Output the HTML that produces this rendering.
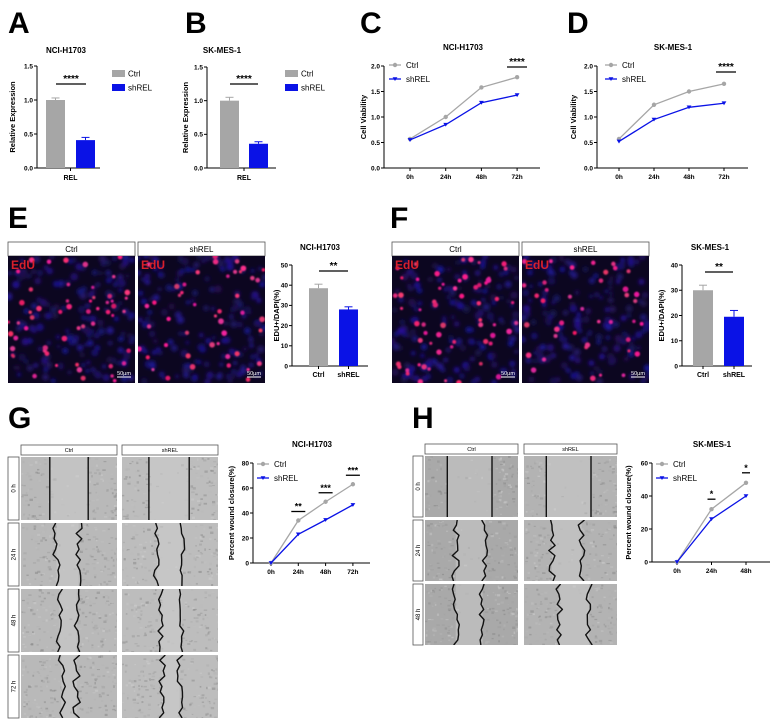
<!DOCTYPE html>
<html><head><meta charset="utf-8">
<style>
html,body{margin:0;padding:0;background:#fff;}
svg{display:block;font-family:"Liberation Sans",sans-serif;}
</style></head>
<body>
<svg id="fig" width="774" height="727" viewBox="0 0 774 727" xmlns="http://www.w3.org/2000/svg">
<defs>
<filter id="blur1" x="-50%" y="-50%" width="200%" height="200%"><feGaussianBlur stdDeviation="0.8"/></filter>
<filter id="blur2" x="-50%" y="-50%" width="200%" height="200%"><feGaussianBlur stdDeviation="1.8"/></filter>
</defs>
</svg>
<script>
// ---------- DATA ----------
const aCategories = ["Ctrl","shREL"];
const aValues = [1.0, 0.41];
const aErrors = [0.03, 0.04];
const bValues = [1.0, 0.36];
const bErrors = [0.05, 0.03];
const relTicks = [0, 0.5, 1.0, 1.5];
const relTickLabels = ["0.0","0.5","1.0","1.5"];

const cvTimeLabels = ["0h","24h","48h","72h"];
const cCtrl = [0.57, 1.0, 1.58, 1.78];
const cShrel = [0.55, 0.85, 1.28, 1.43];
const dCtrl = [0.57, 1.24, 1.5, 1.65];
const dShrel = [0.52, 0.95, 1.19, 1.27];
const cvTicks = [0, 0.5, 1.0, 1.5, 2.0];
const cvTickLabels = ["0.0","0.5","1.0","1.5","2.0"];

const eValues = [38.5, 28];
const eErrors = [2, 1.3];
const eTicks = [0,10,20,30,40,50];
const fValues = [30, 19.5];
const fErrors = [2, 2.5];
const fTicks = [0,10,20,30,40];

const gTimeLabels = ["0h","24h","48h","72h"];
const gCtrl = [0, 34, 49, 63];
const gShrel = [0, 23, 34.5, 46.5];
const gTicks = [0,20,40,60,80];
const gStars = ["", "**", "***", "***"];
const hTimeLabels = ["0h","24h","48h"];
const hCtrl = [0, 32, 48];
const hShrel = [0, 26, 40];
const hTicks = [0,20,40,60];
const hStars = ["", "*", "*"];

// ---------- HELPERS ----------
const NS = "http://www.w3.org/2000/svg";
const fig = document.getElementById('fig');
function el(tag, attrs, parent){
  const e = document.createElementNS(NS, tag);
  for (const k in attrs) e.setAttribute(k, attrs[k]);
  (parent||fig).appendChild(e);
  return e;
}
function txt(s, attrs, parent){ const e = el('text', attrs, parent); e.textContent = s; return e; }
let seed = 12345;
function rnd(){ seed = (seed*1103515245 + 12345) % 2147483648; return seed/2147483648; }
const GRAY = "#a6a6a6", BLUE = "#0a12e6";

function panelLetter(ch, x, y){
  const t = txt(ch, {x:x, y:y, 'font-size':30, 'font-weight':'bold', fill:'#000'});
  
  
}
function title(s, cx, y, name){
  const t = txt(s, {x:cx, y:y, 'font-size':8, 'font-weight':'bold', 'text-anchor':'middle'});
  
  
}
function yAxis(g, ax, y0, yTop, max, ticks, labels, axisLabel, labelX){
  const sy = v => y0 - v/max*(y0-yTop);
  const l = el('line', {x1:ax, y1:sy(ticks[ticks.length-1]), x2:ax, y2:y0, stroke:'#000', 'stroke-width':1}, g);
  
  
  ticks.forEach((v,i)=>{
    el('line', {x1:ax-3, y1:sy(v), x2:ax, y2:sy(v), stroke:'#000', 'stroke-width':1}, g);
    const t = txt(labels[i], {x:ax-4, y:sy(v)+2.3, 'font-size':6.5, 'font-weight':'bold', 'text-anchor':'end'}, g);
    
    
  });
  const cy = (y0 + sy(ticks[ticks.length-1]))/2;
  const yt = txt(axisLabel, {x:labelX, y:cy, 'font-size':7.5, 'font-weight':'bold', 'text-anchor':'middle', transform:`rotate(-90 ${labelX} ${cy})`}, g);
  
  
  return sy;
}
function sig(g, x1, x2, y, stars, fs){
  el('line', {x1:x1, y1:y, x2:x2, y2:y, stroke:'#000', 'stroke-width':1.3}, g);
  const t = txt(stars, {x:(x1+x2)/2, y:y-2, 'font-size':fs||10, 'font-weight':'bold', 'text-anchor':'middle'}, g);
  
  
}

function barChart(name, cfg, values, errors, ticks, labels){
  const g = el('g', {}, fig);
  
  
  const max = ticks[ticks.length-1];
  const sy = yAxis(g, cfg.ax, cfg.y0, cfg.yTop, max, ticks, labels, cfg.ylabel, cfg.ylabelX);
  el('line', {x1:cfg.ax, y1:cfg.y0, x2:cfg.axEnd, y2:cfg.y0, stroke:'#000', 'stroke-width':1}, g);
  values.forEach((v,i)=>{
    const bx = cfg.barX[i];
    const r = el('rect', {x:bx, y:sy(v), width:cfg.bw, height:cfg.y0-sy(v), fill: i===0?GRAY:BLUE}, g);
    
    
    const cx = bx + cfg.bw/2;
    el('line', {x1:cx, y1:sy(v), x2:cx, y2:sy(v+errors[i]), stroke: i===0?GRAY:BLUE, 'stroke-width':1}, g);
    el('line', {x1:cx-4, y1:sy(v+errors[i]), x2:cx+4, y2:sy(v+errors[i]), stroke: i===0?GRAY:BLUE, 'stroke-width':1}, g);
    if (cfg.catLabels){
      el('line', {x1:cx, y1:cfg.y0, x2:cx, y2:cfg.y0+3, stroke:'#000'}, g);
      const t = txt(aCategories[i], {x:cx, y:cfg.y0+11, 'font-size':7, 'font-weight':'bold', 'text-anchor':'middle'}, g);
      
      
    }
  });
  if (cfg.groupLabel){
    const mid = (cfg.barX[0] + cfg.barX[1] + cfg.bw)/2;
    el('line', {x1:mid, y1:cfg.y0, x2:mid, y2:cfg.y0+3, stroke:'#000'}, g);
    const t = txt(cfg.groupLabel, {x:mid, y:cfg.y0+12, 'font-size':7, 'font-weight':'bold', 'text-anchor':'middle'}, g);
    
    
  }
  sig(g, cfg.sig[0], cfg.sig[1], cfg.sig[2], cfg.sig[3]);
  if (cfg.legend){
    const [lx, ly] = cfg.legend;
    ["Ctrl","shREL"].forEach((s,i)=>{
      const r = el('rect', {x:lx, y:ly+i*14-4, width:13, height:7, fill: i===0?GRAY:BLUE}, g);
      
      
      const t = txt(s, {x:lx+16, y:ly+i*14+2.5, 'font-size':8}, g);
      
      
    });
  }
}

function lineChart(name, cfg, timeLabels, ctrl, sh, ticks, tickLabels){
  const g = el('g', {}, fig);
  
  
  const max = ticks[ticks.length-1];
  const sy = yAxis(g, cfg.ax, cfg.y0, cfg.yTop, max, ticks, tickLabels, cfg.ylabel, cfg.ylabelX);
  const sx = i => cfg.x0 + i*cfg.dx;
  el('line', {x1:cfg.ax, y1:cfg.y0, x2:cfg.axEnd, y2:cfg.y0, stroke:'#000', 'stroke-width':1}, g);
  timeLabels.forEach((s,i)=>{
    el('line', {x1:sx(i), y1:cfg.y0, x2:sx(i), y2:cfg.y0+3, stroke:'#000'}, g);
    const t = txt(s, {x:sx(i), y:cfg.y0+11, 'font-size':6.5, 'font-weight':'bold', 'text-anchor':'middle'}, g);
    
    
  });
  [[ctrl, GRAY, 'ctrl'], [sh, BLUE, 'shrel']].forEach(([vals, col, nm])=>{
    const pts = vals.map((v,i)=>`${sx(i)},${sy(v)}`).join(' ');
    const pl = el('polyline', {points:pts, fill:'none', stroke:col, 'stroke-width':1.3}, g);
    
    
    vals.forEach((v,i)=>{
      let m;
      if (nm==='ctrl') m = el('circle', {cx:sx(i), cy:sy(v), r:2.2, fill:col}, g);
      else m = el('path', {d:`M${sx(i)-2.4},${sy(v)-1.8} L${sx(i)+2.4},${sy(v)-1.8} L${sx(i)},${sy(v)+2} Z`, fill:col}, g);
      
      
    });
  });
  const [lx, ly] = cfg.legend;
  [[GRAY,'Ctrl'],[BLUE,'shREL']].forEach(([col,s],i)=>{
    const y = ly + i*14;
    el('line', {x1:lx, y1:y, x2:lx+12, y2:y, stroke:col, 'stroke-width':1.3}, g);
    if (i===0) el('circle', {cx:lx+6, cy:y, r:2.2, fill:col}, g);
    else el('path', {d:`M${lx+3.6},${y-1.8} L${lx+8.4},${y-1.8} L${lx+6},${y+2} Z`, fill:col}, g);
    const t = txt(s, {x:lx+17, y:y+2.8, 'font-size':8}, g);
    
    
  });
  if (cfg.stars){
    cfg.stars.forEach((s,i)=>{
      if (!s) return;
      const top = Math.max(ctrl[i], sh[i]);
      const y = sy(top) - cfg.starGap;
      sig(g, sx(i)-cfg.sigW/2, sx(i)+cfg.sigW/2, y, s, cfg.starFs);
    });
  }
}

function edu(name, x, y, w, h, n){
  const g = el('g', {}, fig);
  
  
  const cp = el('clipPath', {id:'cp'+name}, g);
  el('rect', {x:x, y:y, width:w, height:h}, cp);
  const inner = el('g', {'clip-path':`url(#cp${name})`}, g);
  el('rect', {x:x, y:y, width:w, height:h, fill:'#0c0620'}, inner);
  const bl = el('g', {filter:'url(#blur2)'}, inner);
  for (let i=0;i<160;i++) el('circle', {cx:x+rnd()*w, cy:y+rnd()*h, r:1.8+rnd()*2, fill:`rgb(${20+rnd()*20|0},${10+rnd()*15|0},${70+rnd()*80|0})`}, bl);
  const rd = el('g', {filter:'url(#blur1)'}, inner);
  for (let i=0;i<n;i++) el('circle', {cx:x+rnd()*w, cy:y+rnd()*h, r:1.5+rnd()*1.4, fill:`rgb(${210+rnd()*45|0},${20+rnd()*40|0},${100+rnd()*60|0})`}, rd);
  const t = txt('EdU', {x:x+3, y:y+13, 'font-size':12, 'font-weight':'bold', fill:'#d8202c'}, g);
  
  
  el('line', {x1:x+w-18, y1:y+h-6, x2:x+w-4, y2:y+h-6, stroke:'#fff', 'stroke-width':1}, g);
  const s = txt('50µm', {x:x+w-11, y:y+h-8, 'font-size':5.5, fill:'#fff', 'text-anchor':'middle'}, g);
  
  
}
function header(s, x, y, w, h, fs, name){
  const r = el('rect', {x:x, y:y, width:w, height:h, fill:'#fff', stroke:'#555', 'stroke-width':0.8});
  
  
  const t = txt(s, {x:x+w/2, y:y+h/2+fs*0.36, 'font-size':fs, 'text-anchor':'middle'});
  
  
}
function rowLabel(s, x, y, w, h, name){
  const r = el('rect', {x:x, y:y, width:w, height:h, fill:'#fff', stroke:'#555', 'stroke-width':0.8});
  
  
  const cx = x+w/2+2, cy = y+h/2;
  const t = txt(s, {x:cx, y:cy, 'font-size':6, 'text-anchor':'middle', transform:`rotate(-90 ${cx} ${cy})`});
  
  
}
function wound(name, x, y, w, h, gapL, gapR, wav, shade){
  const g = el('g', {}, fig);
  
  
  const cp = el('clipPath', {id:'cp'+name}, g);
  el('rect', {x:x, y:y, width:w, height:h}, cp);
  const inner = el('g', {'clip-path':`url(#cp${name})`}, g);
  el('rect', {x:x, y:y, width:w, height:h, fill:shade}, inner);
  for (let i=0;i<200;i++){
    const px = x+rnd()*w, py = y+rnd()*h;
    const inGap = px > x+gapL*w && px < x+gapR*w;
    if (inGap && rnd()<0.85) continue;
    const c = 130 + rnd()*80 | 0;
    el('rect', {x:px, y:py, width:1.5+rnd()*2, height:1+rnd()*1.5, fill:`rgb(${c},${c},${c})`, opacity:0.5}, inner);
  }
  el('rect', {x:x+gapL*w, y:y, width:(gapR-gapL)*w, height:h, fill:'#d0d0d0', opacity:0.45}, inner);
  [gapL, gapR].forEach(fr=>{
    let d = '';
    const steps = 12;
    for (let i=0;i<=steps;i++){
      const px = x + fr*w + (wav ? (rnd()-0.5)*wav : 0);
      const py = y + i*h/steps;
      d += (i===0?'M':'L') + px.toFixed(1) + ',' + py.toFixed(1) + ' ';
    }
    el('path', {d:d, fill:'none', stroke:'#111', 'stroke-width':1.4, 'stroke-linejoin':'round'}, inner);
  });
}

// ---------- PANELS ----------
panelLetter('A', 8, 33); panelLetter('B', 185, 33); panelLetter('C', 360, 33); panelLetter('D', 567, 33);
panelLetter('E', 8, 228); panelLetter('F', 390, 228); panelLetter('G', 8, 428); panelLetter('H', 412, 428);

title('NCI-H1703', 66, 53, 'chart-title-a');
barChart('chart-a', {ax:37, y0:168, yTop:66, axEnd:100, barX:[46,76], bw:19, ylabel:'Relative Expression', ylabelX:15,
  groupLabel:'REL', sig:[56,86,84,'****'], legend:[112,74]}, aValues, aErrors, relTicks, relTickLabels);
title('SK-MES-1', 222, 53, 'chart-title-b');
barChart('chart-b', {ax:207, y0:168, yTop:67, axEnd:276, barX:[220,249], bw:19, ylabel:'Relative Expression', ylabelX:188,
  groupLabel:'REL', sig:[230,258,84,'****'], legend:[285,74]}, bValues, bErrors, relTicks, relTickLabels);

title('NCI-H1703', 463, 50, 'chart-title-c');
lineChart('chart-c', {ax:384, y0:168, yTop:66, axEnd:540, x0:410, dx:35.7, ylabel:'Cell Viability', ylabelX:366,
  legend:[389,65]}, cvTimeLabels, cCtrl, cShrel, cvTicks, cvTickLabels);
sig(fig, 507, 527, 67, '****');
title('SK-MES-1', 673, 50, 'chart-title-d');
lineChart('chart-d', {ax:597, y0:168, yTop:66, axEnd:748, x0:619, dx:35, ylabel:'Cell Viability', ylabelX:576,
  legend:[605,65]}, cvTimeLabels, dCtrl, dShrel, cvTicks, cvTickLabels);
sig(fig, 716, 736, 72, '****');

// E
header('Ctrl', 8, 242, 127, 14, 8, 'header-e-ctrl');
header('shREL', 138, 242, 127, 14, 8, 'header-e-shrel');
edu('edu-e-ctrl', 8, 256, 127, 127, 55);
edu('edu-e-shrel', 138, 256, 127, 127, 45);
title('NCI-H1703', 320, 250, 'chart-title-e');
barChart('chart-e', {ax:292, y0:366, yTop:265, axEnd:368, barX:[309,339], bw:19, ylabel:'EDU+/DAPI(%)', ylabelX:279,
  catLabels:true, sig:[319,348,271,'**']}, eValues, eErrors, eTicks, eTicks.map(String));

// F
header('Ctrl', 392, 242, 127, 14, 8, 'header-f-ctrl');
header('shREL', 522, 242, 127, 14, 8, 'header-f-shrel');
edu('edu-f-ctrl', 392, 256, 127, 127, 60);
edu('edu-f-shrel', 522, 256, 127, 127, 40);
title('SK-MES-1', 710, 250, 'chart-title-f');
barChart('chart-f', {ax:682, y0:366, yTop:265, axEnd:752, barX:[693,724], bw:20, ylabel:'EDU+/DAPI(%)', ylabelX:664,
  catLabels:true, sig:[705,733,272,'**']}, fValues, fErrors, fTicks, fTicks.map(String));

// G
header('Ctrl', 21, 445, 96, 10, 5.5, 'header-g-ctrl');
header('shREL', 122, 445, 96, 10, 5.5, 'header-g-shrel');
const gRows = ["0 h","24 h","48 h","72 h"];
const gGaps = [[0.3,0.7,0],[0.37,0.6,8],[0.4,0.58,7],[0.42,0.58,8]];
const gGapsS = [[0.28,0.7,0],[0.36,0.63,6],[0.4,0.62,6],[0.42,0.6,7]];
gRows.forEach((s,i)=>{
  const y = 457 + i*66;
  rowLabel(s, 8, y, 11, 63, 'row-label-g-' + i);
  wound('wound-g-ctrl-' + i, 21, y, 96, 63, gGaps[i][0], gGaps[i][1], gGaps[i][2], '#b9b9b9');
  wound('wound-g-shrel-' + i, 122, y, 96, 63, gGapsS[i][0], gGapsS[i][1], gGapsS[i][2], '#bdbdbd');
});
title('NCI-H1703', 312, 447, 'chart-title-g');
lineChart('chart-g', {ax:253, y0:563, yTop:463, axEnd:370, x0:271, dx:27.3, ylabel:'Percent wound closure(%)', ylabelX:234,
  legend:[257,464], stars:gStars, starGap:9, sigW:14, starFs:9}, gTimeLabels, gCtrl, gShrel, gTicks, gTicks.map(String));

// H
header('Ctrl', 425, 444, 93, 10, 5.5, 'header-h-ctrl');
header('shREL', 524, 444, 93, 10, 5.5, 'header-h-shrel');
const hRows = ["0 h","24 h","48 h"];
const hGaps = [[0.24,0.72,0],[0.33,0.65,8],[0.33,0.62,8]];
const hGapsS = [[0.24,0.72,0],[0.3,0.62,7],[0.38,0.7,7]];
hRows.forEach((s,i)=>{
  const y = 456 + i*64;
  rowLabel(s, 413, y, 10, 61, 'row-label-h-' + i);
  wound('wound-h-ctrl-' + i, 425, y, 93, 61, hGaps[i][0], hGaps[i][1], hGaps[i][2], '#a9a9a9');
  wound('wound-h-shrel-' + i, 524, y, 93, 61, hGapsS[i][0], hGapsS[i][1], hGapsS[i][2], '#b3b3b3');
});
title('SK-MES-1', 712, 447, 'chart-title-h');
lineChart('chart-h', {ax:652, y0:562, yTop:463, axEnd:770, x0:677, dx:34.5, ylabel:'Percent wound closure(%)', ylabelX:631,
  legend:[656,464], stars:hStars, starGap:10, sigW:8, starFs:9}, hTimeLabels, hCtrl, hShrel, hTicks, hTicks.map(String));
</script>
</body></html>
